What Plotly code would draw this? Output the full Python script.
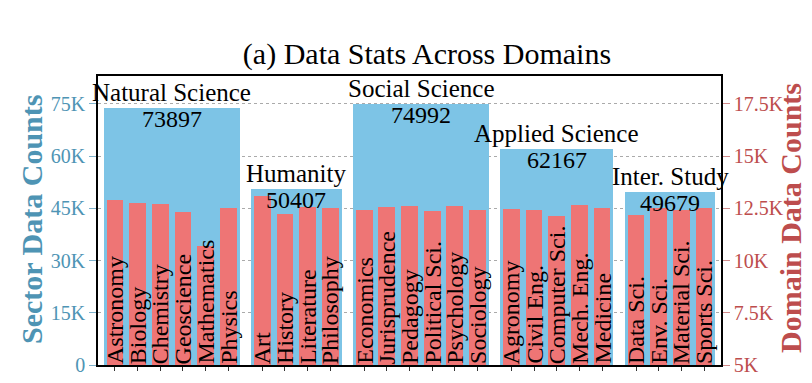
import plotly.graph_objects as go

# ---------------- data ----------------
sectors = ["Natural Science", "Humanity", "Social Science", "Applied Science", "Inter. Study"]
sector_counts = [73897, 50407, 74992, 62167, 49679]

domains_by_sector = [
    ["Astronomy", "Biology", "Chemistry", "Geoscience", "Mathematics", "Physics"],
    ["Art", "History", "Literature", "Philosophy"],
    ["Economics", "Jurisprudence", "Pedagogy", "Political Sci.", "Psychology", "Sociology"],
    ["Agronomy", "Civil Eng.", "Computer Sci.", "Mech. Eng.", "Medicine"],
    ["Data Sci.", "Env. Sci.", "Material Sci.", "Sports Sci."],
]
domain_counts_by_sector = [
    [12900, 12740, 12720, 12320, 10690, 12527],
    [13100, 12225, 12560, 12522],
    [12415, 12575, 12620, 12370, 12610, 12402],
    [12466, 12402, 12130, 12657, 12512],
    [12170, 12535, 12440, 12534],
]

left_ticks = [0, 15000, 30000, 45000, 60000, 75000]
left_ticktext = ["0", "15K", "30K", "45K", "60K", "75K"]
right_ticks = [5000, 7500, 10000, 12500, 15000, 17500]
right_ticktext = ["5K", "7.5K", "10K", "12.5K", "15K", "17.5K"]

# ---------------- layout helpers ----------------
BLUE = "#7DC4E6"
RED = "#EE7575"
LBLUE = "#4E94B4"
DRED = "#BD4D4D"
FONT = "Liberation Serif"

OFF = 8  # page body margin offset
W, H = 812 - OFF, 383 - OFF
ML, MR, MT, MB = 98 - OFF, 91, 76 - OFF, 18

left_max = 83000
right_min = 5000
right_max = right_min + left_max / 6.0

# x positions: groups separated by extra half-unit gap
group_centers, group_widths = [], []
domain_x, domain_names, domain_vals = [], [], []
pos = 0.0
for names, vals in zip(domains_by_sector, domain_counts_by_sector):
    xs = [pos + i for i in range(len(names))]
    domain_x += xs
    domain_names += names
    domain_vals += vals
    group_centers.append((xs[0] + xs[-1]) / 2.0)
    group_widths.append(len(names))
    pos = xs[-1] + 1.5

fig = go.Figure()
fig.add_trace(go.Bar(
    x=group_centers, y=sector_counts, width=group_widths,
    marker=dict(color=BLUE, line=dict(width=0)), yaxis="y", showlegend=False,
    hoverinfo="skip",
))
fig.add_trace(go.Bar(
    x=domain_x, y=domain_vals, width=0.74,
    marker=dict(color=RED, line=dict(width=0)), yaxis="y2", showlegend=False,
    hoverinfo="skip",
))

ann = []
for cx, v, name in zip(group_centers, sector_counts, sectors):
    ann.append(dict(x=cx, y=v, xref="x", yref="y", text=name, showarrow=False,
                    xanchor="center", yanchor="bottom", yshift=0,
                    font=dict(family=FONT, size=25, color="black")))
    ann.append(dict(x=cx, y=v, xref="x", yref="y", text=str(v), showarrow=False,
                    xanchor="center", yanchor="top", yshift=4,
                    font=dict(family=FONT, size=24, color="black")))
for x, name in zip(domain_x, domain_names):
    ann.append(dict(x=x, y=0, xref="x", yref="y", text=name, showarrow=False,
                    textangle=-90, xanchor="center", yanchor="bottom", yshift=-1,
                    font=dict(family=FONT, size=24, color="black")))


def px_to_paper_x(px):
    return (px - OFF - ML) / (W - ML - MR)


def px_to_paper_y(py):
    return (H - MB - (py - OFF)) / (H - MT - MB)


ann.append(dict(x=px_to_paper_x(31), y=px_to_paper_y(220), xref="paper", yref="paper",
                text="<b>Sector Data Counts</b>", showarrow=False, textangle=-90,
                xanchor="center", yanchor="middle",
                font=dict(family=FONT, size=30, color=LBLUE)))
ann.append(dict(x=px_to_paper_x(790), y=px_to_paper_y(218), xref="paper", yref="paper",
                text="<b>Domain Data Counts</b>", showarrow=False, textangle=-90,
                xanchor="center", yanchor="middle",
                font=dict(family=FONT, size=30, color=DRED)))

fig.update_layout(
    width=W, height=H,
    margin=dict(l=ML, r=MR, t=MT, b=MB, autoexpand=False),
    paper_bgcolor="white", plot_bgcolor="white",
    barmode="overlay", bargap=0,
    title=dict(text="(a) Data Stats Across Domains", xref="container", yref="container",
               x=(427 - OFF) / W, xanchor="center",
               y=1 - (53 - OFF) / H, yanchor="middle",
               font=dict(family=FONT, size=30, color="black")),
    xaxis=dict(range=[-0.75, pos - 1.5 + 0.75], tickvals=domain_x, ticktext=[""] * len(domain_x),
               ticks="outside", ticklen=4, tickcolor="#333333", showgrid=False, automargin=False,
               showline=True, linecolor="black", linewidth=1.5, mirror=True, zeroline=False),
    yaxis=dict(range=[0, left_max], tickvals=left_ticks, ticktext=left_ticktext, automargin=False,
               ticks="outside", ticklen=7, tickcolor="#7FB2CC", tickwidth=1.2,
               tickfont=dict(family=FONT, size=20, color=LBLUE),
               showgrid=True, gridcolor="#AAAAAA", griddash="dot", gridwidth=1,
               showline=True, linecolor="black", linewidth=1.5, zeroline=False),
    yaxis2=dict(range=[right_min, right_max], overlaying="y", side="right", automargin=False,
                tickvals=right_ticks, ticktext=right_ticktext,
                ticks="outside", ticklen=7, tickcolor="#D08A8A", tickwidth=1.2,
                tickfont=dict(family=FONT, size=20, color=DRED),
                showgrid=False, showline=True, linecolor="black", linewidth=1.5, zeroline=False),
    annotations=ann,
)

fig.write_html("out.html")
